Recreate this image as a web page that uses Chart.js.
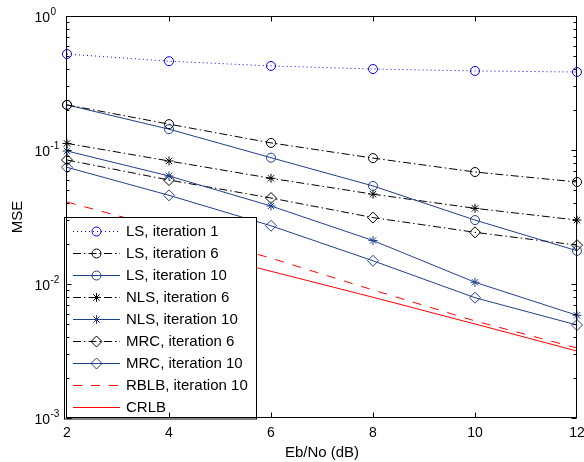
<!DOCTYPE html>
<html>
<head>
<meta charset="utf-8">
<script src="https://cdn.jsdelivr.net/npm/chart.js@4/dist/chart.umd.min.js"></script>
<style>
html,body{margin:0;padding:0;background:#fff;}
#c{display:block;}
</style>
</head>
<body>
<canvas id="c" width="584" height="462"></canvas>
<script>
const FONT = "'Liberation Sans', Arial, sans-serif";

// Eb/No (dB)
const snr = [2, 4, 6, 8, 10, 12];
// MSE values
const lsIt1   = [0.52, 0.46, 0.424, 0.402, 0.389, 0.382];
const lsIt6   = [0.217, 0.156, 0.113, 0.087, 0.0685, 0.0577];
const lsIt10  = [0.217, 0.143, 0.0876, 0.0539, 0.030, 0.0177];
const nlsIt6  = [0.112, 0.0828, 0.0615, 0.0468, 0.0367, 0.030];
const nlsIt10 = [0.0983, 0.064, 0.0382, 0.0211, 0.0103, 0.00584];
const mrcIt6  = [0.0842, 0.0597, 0.0438, 0.0313, 0.0243, 0.0195];
const mrcIt10 = [0.0743, 0.0459, 0.0272, 0.0149, 0.0079, 0.00494];
const rblb    = [0.0409, 0.0255, 0.0156, 0.00902, 0.0053, 0.00333];
const crlb    = [0.0304, 0.0194, 0.01244, 0.00796, 0.00503, 0.00316];
// y axis decades (exponents)
const yExp = [0, -1, -2, -3];

const BLUE='#0000ff', NAVY='#213f8f', BLACK='#000000', RED='#ff0000';
const DOT=[1,3], DASHDOT=[8,3,1.5,3], DASH=[9,9];

const pts = arr => snr.map((x,i)=>({x:x, y:arr[i]}));

function ds(label, arr, color, dash, marker, r){
  return {
    label:label, data:pts(arr),
    borderColor:color, borderWidth:1, borderDash:dash,
    pointStyle:marker||'circle', pointRadius:marker?r:0,
    pointBorderColor:color, pointBackgroundColor:'rgba(0,0,0,0)',
    pointBorderWidth:1, pointHoverRadius:marker?r:0,
    tension:0, fill:false, clip:false
  };
}

const datasets = [
  ds('LS, iteration 1',   lsIt1,   BLUE,  DOT,     'circle', 4.5),
  ds('LS, iteration 6',   lsIt6,   BLACK, DASHDOT, 'circle', 4.5),
  ds('LS, iteration 10',  lsIt10,  NAVY,  [],      'circle', 4.5),
  ds('NLS, iteration 6',  nlsIt6,  BLACK, DASHDOT, 'star', 4.5),
  ds('NLS, iteration 10', nlsIt10, NAVY,  [],      'star', 4.5),
  ds('MRC, iteration 6',  mrcIt6,  BLACK, DASHDOT, 'rectRot', 5.5),
  ds('MRC, iteration 10', mrcIt10, NAVY,  [],      'rectRot', 5.5),
  ds('RBLB, iteration 10',rblb,    RED,   DASH,    null, 0),
  ds('CRLB',              crlb,    RED,   [],      null, 0)
];

function marker(ctx, style, r, x, y){
  ctx.beginPath();
  if(style==='circle'){
    ctx.arc(x,y,r,0,Math.PI*2);
  } else if(style==='rectRot'){
    ctx.moveTo(x,y-r); ctx.lineTo(x+r,y); ctx.lineTo(x,y+r); ctx.lineTo(x-r,y); ctx.closePath();
  } else if(style==='star'){
    const d=r*Math.SQRT1_2;
    ctx.moveTo(x-r,y); ctx.lineTo(x+r,y);
    ctx.moveTo(x,y-r); ctx.lineTo(x,y+r);
    ctx.moveTo(x-d,y-d); ctx.lineTo(x+d,y+d);
    ctx.moveTo(x-d,y+d); ctx.lineTo(x+d,y-d);
  }
  ctx.stroke();
}

const legendBox = {
  id:'legendBox',
  afterDatasetsDraw(chart){
    const ctx=chart.ctx;
    ctx.save();
    ctx.fillStyle='#fff'; ctx.strokeStyle='#000'; ctx.lineWidth=1;
    ctx.fillRect(64.5,217.5,192,201.5);
    ctx.strokeRect(64.5,217.5,192,201.5);
    ctx.font='15px '+FONT; ctx.textBaseline='middle'; ctx.textAlign='left';
    chart.data.datasets.forEach((d,i)=>{
      const y=Math.round(230.5+22*i)+0.5;
      ctx.strokeStyle=d.borderColor; ctx.lineWidth=1;
      ctx.setLineDash(d.borderDash);
      ctx.beginPath(); ctx.moveTo(73,y); ctx.lineTo(120,y); ctx.stroke();
      ctx.setLineDash([]);
      if(d.pointRadius>0) marker(ctx,d.pointStyle,d.pointRadius,96.5,y);
      ctx.fillStyle='#000';
      ctx.fillText(d.label,126,y+0.5);
    });
    ctx.restore();
  }
};

const frame = {
  id:'frame',
  afterDraw(chart){
    const ctx=chart.ctx, xs=chart.scales.x, ys=chart.scales.y;
    const a=chart.chartArea;
    const L=Math.round(a.left)-0.5, R=Math.round(a.right)-0.5;
    const T=Math.round(a.top)+0.5, B=Math.round(a.bottom)-0.5;
    ctx.save();
    ctx.strokeStyle='#000'; ctx.lineWidth=1;
    ctx.strokeRect(L,T,R-L,B-T);
    ctx.beginPath();
    snr.slice(1,-1).forEach(v=>{
      const x=Math.round(xs.getPixelForValue(v))+0.5;
      ctx.moveTo(x,B); ctx.lineTo(x,B-5);
      ctx.moveTo(x,T); ctx.lineTo(x,T+5);
    });
    yExp.forEach(k=>{
      const y=Math.round(ys.getPixelForValue(Math.pow(10,k)))+0.5;
      ctx.moveTo(L,y); ctx.lineTo(L+5,y);
      ctx.moveTo(R,y); ctx.lineTo(R-5,y);
      if(k<0){
        for(let m=2;m<=9;m++){
          const ym=Math.round(ys.getPixelForValue(m*Math.pow(10,k)))+0.5;
          ctx.moveTo(L,ym); ctx.lineTo(L+3,ym);
          ctx.moveTo(R,ym); ctx.lineTo(R-3,ym);
        }
      }
    });
    ctx.stroke();
    ctx.fillStyle='#000'; ctx.textBaseline='middle';
    // x tick labels
    ctx.font='14px '+FONT; ctx.textAlign='center';
    snr.forEach(v=>ctx.fillText(String(v), xs.getPixelForValue(v), a.bottom+15));
    // y tick labels: 10 with superscript exponent
    ctx.textAlign='left';
    yExp.forEach(k=>{
      const y=ys.getPixelForValue(Math.pow(10,k));
      ctx.font='14px '+FONT;
      ctx.fillText('10',34.5,y+2);
      ctx.font='10px '+FONT;
      ctx.fillText(k===0?'0':'-'+(-k),50.5,y-4);
    });
    ctx.restore();
  }
};

new Chart(document.getElementById('c'),{
  type:'line',
  data:{datasets:datasets},
  options:{
    responsive:false, animation:false,
    layout:{padding:{top:16,right:7,left:0,bottom:0}},
    plugins:{legend:{display:false}, tooltip:{enabled:false}},
    scales:{
      x:{
        type:'linear', min:2, max:12,
        ticks:{display:false, stepSize:2},
        grid:{display:false, drawTicks:false}, border:{display:false},
        title:{display:true, text:'Eb/No (dB)', color:'#000', font:{family:FONT,size:15}, padding:{top:0,bottom:0}},
        afterFit:s=>{s.height=44;}
      },
      y:{
        type:'logarithmic', min:0.001, max:1,
        ticks:{display:false},
        grid:{display:false, drawTicks:false}, border:{display:false},
        title:{display:true, text:'MSE', color:'#000', font:{family:FONT,size:15}, padding:{top:9,bottom:0}},
        afterFit:s=>{s.width=67;}
      }
    }
  },
  plugins:[legendBox, frame]
});
</script>
</body>
</html>
